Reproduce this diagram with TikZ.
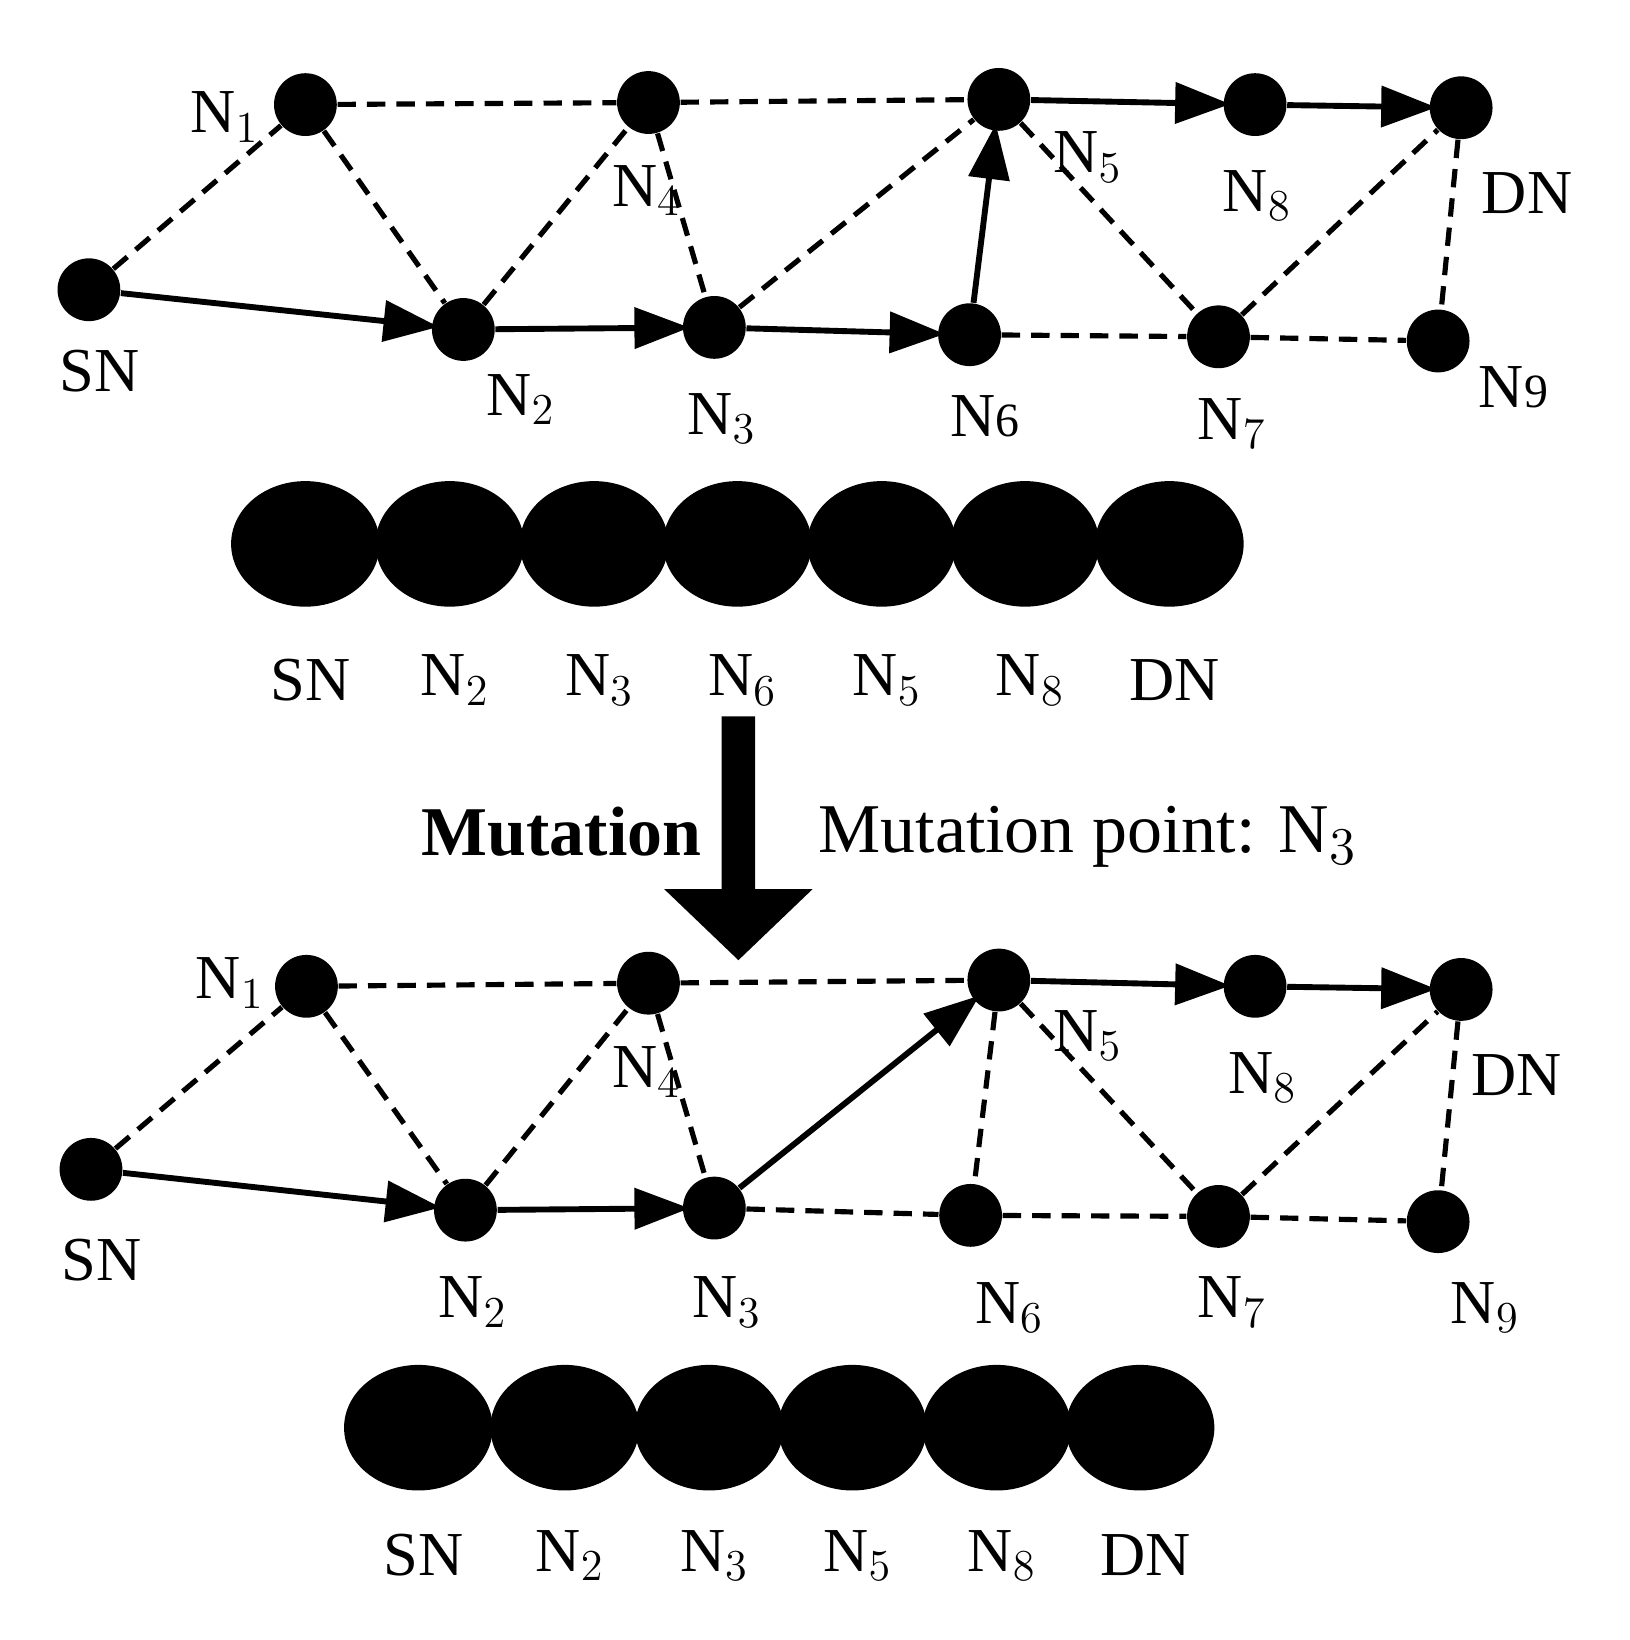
\documentclass[tikz,border=0pt]{standalone}
\usepackage{fontspec}
\setmainfont{Liberation Serif}
\usetikzlibrary{arrows.meta,shapes.geometric}
\begin{document}
\begin{tikzpicture}[x=0.01cm,y=-0.01cm,
  v/.style={circle,fill=black,inner sep=0pt,minimum size=0.6cm},
  g/.style={ellipse,fill=black,inner sep=0pt,minimum width=1.42cm,minimum height=1.2cm},
  lab/.style={font=\fontsize{17pt}{19pt}\selectfont,inner sep=0pt},
  d/.style={line width=1.4pt,dash pattern=on 5pt off 3pt},
  a/.style={line width=1.6pt,-{Triangle[length=15pt,width=11pt]},shorten >=-2pt}]
\useasboundingbox (0,0) rectangle (1558,1568);
% ---------- top graph ----------
\node[v] (tN1) at (292,100) {}; \node[v] (tN4) at (620,98) {};
\node[v] (tN5) at (955,95) {};  \node[v] (tN8) at (1200,100) {};
\node[v] (tDN) at (1397,103) {}; \node[v] (tSN) at (85,277) {};
\node[v] (tN2) at (443,315) {}; \node[v] (tN3) at (683,313) {};
\node[v] (tN6) at (927,320) {}; \node[v] (tN7) at (1165,322) {};
\node[v] (tN9) at (1375,326) {};
\foreach \p/\q in {tSN/tN1,tN1/tN4,tN4/tN5,tN1/tN2,tN2/tN4,tN4/tN3,tN3/tN5,tN5/tN7,tN7/tDN,tDN/tN9,tN6/tN7,tN7/tN9}
  \draw[d] (\p) -- (\q);
\foreach \p/\q in {tSN/tN2,tN2/tN3,tN3/tN6,tN6/tN5,tN5/tN8,tN8/tDN}
  \draw[a] (\p) -- (\q);
\node[lab] (l1) at (215,112) {N$_1$}; \node[lab] (l2) at (618,182) {N$_4$};
\node[lab] (l3) at (1040,150) {N$_5$}; \node[lab] (l4) at (1202,187) {N$_8$};
\node[lab] (l5) at (1460,185) {DN}; \node[lab] (l6) at (95,355) {SN};
\node[lab] (l7) at (498,382) {N$_2$}; \node[lab] (l8) at (690,400) {N$_3$};
\node[lab] (l9) at (942,398) {N{\fontsize{13pt}{14pt}\selectfont 6}};
\node[lab] (l10) at (1178,405) {N$_7$};
\node[lab] (l11) at (1447,370) {N{\fontsize{13pt}{14pt}\selectfont 9}};
% ---------- chromosome 1 ----------
\foreach \x/\t [count=\i] in {292/SN,430/N$_2$,568/N$_3$,705/N$_6$,843/N$_5$,980/N$_8$,1118/DN}{
  \node[g] (c\i) at (\x,520) {};
  \node[lab] (cl\i) at (\x+5,650) {\t};}
% ---------- arrow ----------
\fill (690,685) -- (722,685) -- (722,850) -- (777,850) -- (706,918) -- (635,850) -- (690,850) -- cycle;
\node[lab,font=\fontsize{19pt}{21pt}\selectfont\bfseries] (mut) at (537,795) {Mutation};
\node[lab,font=\fontsize{19pt}{21pt}\selectfont] (mp) at (1040,800) {Mutation point: N$_3$};
% ---------- bottom graph ----------
\node[v] (bN1) at (293,943) {}; \node[v] (bN4) at (620,940) {};
\node[v] (bN5) at (955,937) {}; \node[v] (bN8) at (1200,943) {};
\node[v] (bDN) at (1397,946) {}; \node[v] (bSN) at (87,1118) {};
\node[v] (bN2) at (445,1157) {}; \node[v] (bN3) at (683,1155) {};
\node[v] (bN6) at (928,1162) {}; \node[v] (bN7) at (1165,1163) {};
\node[v] (bN9) at (1375,1168) {};
\foreach \p/\q in {bSN/bN1,bN1/bN4,bN4/bN5,bN1/bN2,bN2/bN4,bN4/bN3,bN5/bN6,bN5/bN7,bN7/bDN,bDN/bN9,bN3/bN6,bN6/bN7,bN7/bN9}
  \draw[d] (\p) -- (\q);
\foreach \p/\q in {bSN/bN2,bN2/bN3,bN3/bN5,bN5/bN8,bN8/bDN}
  \draw[a] (\p) -- (\q);
\node[lab] (m1) at (220,940) {N$_1$}; \node[lab] (m2) at (618,1025) {N$_4$};
\node[lab] (m3) at (1040,990) {N$_5$}; \node[lab] (m4) at (1207,1030) {N$_8$};
\node[lab] (m5) at (1450,1028) {DN}; \node[lab] (m6) at (97,1205) {SN};
\node[lab] (m7) at (452,1245) {N$_2$}; \node[lab] (m8) at (695,1245) {N$_3$};
\node[lab] (m9) at (965,1250) {N$_6$}; \node[lab] (m10) at (1178,1245) {N$_7$};
\node[lab] (m11) at (1420,1250) {N$_9$};
% ---------- chromosome 2 ----------
\foreach \x/\t [count=\i] in {400/SN,540/N$_2$,678/N$_3$,815/N$_5$,953/N$_8$,1090/DN}{
  \node[g] (d\i) at (\x,1365) {};
  \node[lab] (dl\i) at (\x+5,1487) {\t};}
\end{tikzpicture}
\end{document}
